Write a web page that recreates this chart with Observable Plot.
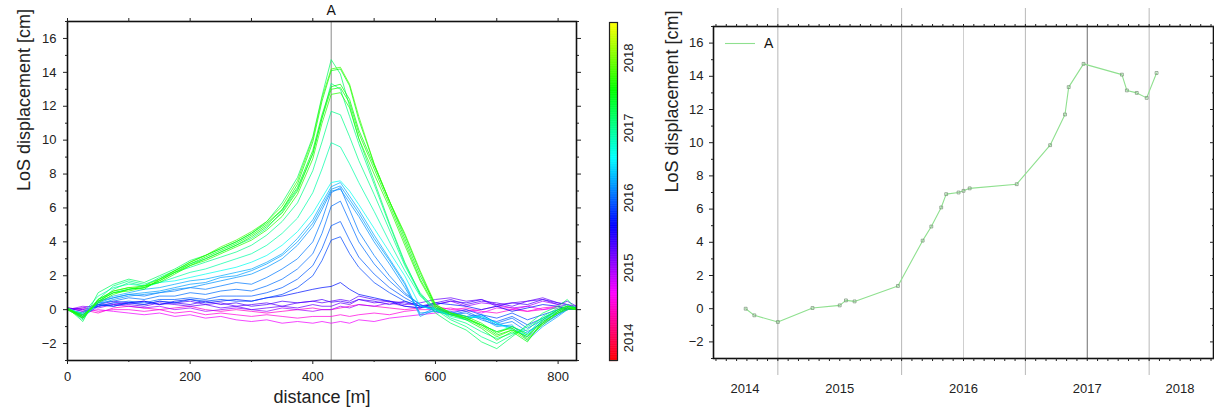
<!DOCTYPE html>
<html><head><meta charset="utf-8">
<script src="https://cdn.jsdelivr.net/npm/d3@7"></script>
<script src="https://cdn.jsdelivr.net/npm/@observablehq/plot@0.6"></script>
<style>
body{margin:0;background:#fff;font-family:"Liberation Sans",Arial,sans-serif;}
#wrap{position:relative;width:1214px;height:414px;overflow:hidden;background:#fff}
#wrap > div{position:absolute;top:0}
</style></head><body>
<div id="wrap">
  <div id="left" style="left:0"></div>
  <div id="cbar" style="left:590px"></div>
  <div id="right" style="left:640px"></div>
  <div id="legend" style="left:724px;top:34px"></div>
</div>
<script>
// ---------- data ----------
const distances = [0,25,50,75,100,125,150,175,200,225,250,275,300,325,350,375,400,415,430,445,460,475,500,525,550,575,600,625,650,675,700,725,750,775,800,815,830];

const profileDates = [2014.24,2014.31,2014.50,2014.78,2015.00,2015.05,2015.12,2015.47,2015.67,2015.74,2015.82,2015.86,2015.96,2016.00,2016.05,2016.43,2016.70,2016.82,2016.85,2016.97,2017.28,2017.32,2017.40,2017.48,2017.56];

const profiles = [
 [0.1,0.0,-0.2,0.1,0.2,0.1,0.0,0.1,0.2,0.0, -0.1,0.0,-0.1,-0.2,-0.1,0.0,0.1,0.0,0.0,0.1, 0.2,0.3,0.2,0.1,0.0,0.1,0.2,0.0,0.1,-0.1, -0.2,0.0,-0.1,0.1,0.2,0.1,0.0],
 [0.0,0.1,-0.1,0.0,0.0,-0.1,0.0,-0.2,-0.1,-0.3, -0.2,-0.3,-0.4,-0.3,-0.4,-0.5,-0.4,-0.4,-0.4,-0.3, -0.4,-0.3,-0.2,-0.3,-0.1,0.0,0.0,0.1,-0.1,0.0, 0.2,0.1,-0.1,0.0,0.2,0.0,0.1],
 [0.1,-0.1,0.0,-0.1,-0.2,-0.3,-0.2,-0.4,-0.3,-0.5, -0.4,-0.6,-0.7,-0.6,-0.8,-0.7,-0.8,-0.7,-0.8,-0.7, -0.8,-0.6,-0.7,-0.5,-0.4,-0.3,-0.2,-0.1,0.0,-0.2, 0.1,0.0,0.2,0.0,0.1,0.0,0.1],
 [0.0,0.2,0.1,0.3,0.2,0.1,0.2,0.0,0.1,-0.1, 0.0,0.1,0.0,-0.1,0.1,0.0,-0.1,0.0,0.0,0.2, 0.1,0.3,0.2,0.4,0.2,0.1,0.3,0.5,0.2,0.4, 0.3,0.1,0.2,0.5,0.3,0.2,0.1],
 [0.1,0.0,0.2,0.4,0.3,0.2,0.4,0.3,0.2,0.3, 0.1,0.2,0.0,0.1,0.2,0.1,0.3,0.2,0.2,0.4, 0.3,0.6,0.4,0.5,0.3,0.4,0.6,0.7,0.5,0.6, 0.3,0.4,0.5,0.7,0.4,0.3,0.2],
 [0.0,0.1,0.3,0.5,0.4,0.3,0.5,0.4,0.5,0.3, 0.4,0.2,0.3,0.4,0.2,0.4,0.5,0.4,0.5,0.6, 0.5,0.8,0.6,0.5,0.4,0.2,0.4,0.6,0.3,0.5, 0.4,0.2,0.5,0.6,0.3,0.5,0.2],
 [0.1,-0.1,0.2,0.3,0.4,0.5,0.3,0.4,0.3,0.5, 0.3,0.4,0.2,0.3,0.5,0.4,0.5,0.6,0.44,0.5, 0.4,0.6,0.5,0.3,0.5,0.2,0.3,0.5,0.4,0.6, 0.2,0.4,0.3,0.6,0.4,0.3,0.1],
 [0.0,-0.2,0.3,0.2,0.4,0.5,0.3,0.5,0.6,0.4, 0.5,0.6,0.5,0.7,0.8,1.0,1.2,1.3,1.37,1.6, 1.2,0.9,0.7,0.5,0.2,0.1,0.4,0.3,0.2,0.0, 0.2,-0.1,0.1,0.3,0.2,0.0,0.1],
 [0.0,-0.3,0.3,0.2,0.4,0.3,0.5,0.4,0.6,0.5, 0.6,0.5,0.5,0.7,0.9,1.3,2.0,2.9,4.1,4.3, 3.3,2.5,1.6,1.0,0.5,0.2,0.1,-0.2,0.0,-0.3, -0.5,-0.2,-0.6,-0.3,0.0,0.1,0.0],
 [0.1,-0.4,0.2,0.4,0.5,0.4,0.6,0.6,0.7,0.6, 0.8,0.8,0.8,1.0,1.3,1.8,2.6,3.6,4.95,5.2, 4.1,3.1,2.1,1.3,0.7,0.2,0.0,-0.3,-0.1,-0.5, -0.7,-0.4,-0.9,-0.5,-0.1,0.2,0.0],
 [0.0,-0.3,0.4,0.5,0.7,0.6,0.8,0.8,1.0,0.9, 1.1,1.2,1.1,1.4,1.8,2.4,3.3,4.5,6.1,6.4, 5.2,4.0,2.7,1.7,0.9,0.3,0.0,-0.2,-0.4,-0.3, -0.8,-0.5,-1.1,-0.6,-0.2,0.1,0.0],
 [0.1,-0.5,0.5,0.7,0.9,0.8,1.0,1.1,1.3,1.2, 1.4,1.6,1.5,1.9,2.4,3.0,4.0,5.3,6.9,7.2, 5.9,4.6,3.2,2.0,1.0,0.3,-0.1,-0.3,-0.2,-0.6, -0.9,-0.7,-1.3,-0.8,-0.3,0.0,0.1],
 [0.0,-0.4,0.3,0.6,0.8,0.9,1.0,1.2,1.3,1.5, 1.7,1.9,2.1,2.5,3.0,3.8,4.9,5.9,7.0,7.1, 6.3,5.5,4.0,2.7,1.3,-0.2,-0.1,-0.3,-0.5,-0.4, -0.9,-1.0,-1.4,-0.7,-0.2,0.0,0.1],
 [0.1,-0.3,0.4,0.7,0.9,1.0,1.1,1.3,1.5,1.6, 1.9,2.0,2.3,2.7,3.2,4.0,5.1,6.1,7.1,7.3, 6.5,5.7,4.2,2.9,1.5,-0.4,0.0,-0.2,-0.6,-0.3, -0.8,-1.1,-1.6,-0.9,-0.3,0.1,0.0],
 [0.0,-0.5,0.5,0.8,1.0,1.2,1.3,1.5,1.7,1.8, 2.0,2.2,2.4,2.8,3.3,4.2,5.3,6.3,7.25,7.5, 6.7,5.9,4.4,3.0,1.6,-0.3,0.1,-0.1,-0.4,-0.5, -1.0,-0.9,-1.8,-1.0,-0.4,0.0,0.2],
 [0.1,-0.3,0.6,1.0,1.2,1.3,1.6,1.7,1.9,2.1, 2.3,2.5,2.8,3.2,3.8,4.6,5.7,6.6,7.5,7.6, 7.0,6.2,4.8,3.4,2.0,0.2,0.0,-0.3,-0.5,-0.4, -0.8,-1.2,-1.5,-0.6,-0.1,0.2,0.0],
 [0.0,-0.2,0.8,1.3,1.5,1.4,1.6,1.9,2.2,2.4, 2.7,3.0,3.3,3.8,4.5,5.4,6.9,8.3,9.85,9.6, 8.6,7.5,5.8,4.0,2.3,0.8,0.0,-0.4,-0.6,-0.9, -1.3,-1.0,-1.4,-0.5,0.0,0.2,0.1],
 [0.1,-0.6,0.6,1.4,1.7,1.5,1.8,2.2,2.5,2.8, 3.1,3.4,3.8,4.4,5.2,6.3,8.2,9.9,11.7,11.5, 10.2,8.8,6.8,4.7,2.6,0.9,0.1,-0.5,-0.8,-1.3, -1.7,-1.4,-1.2,-0.4,0.1,0.3,0.0],
 [0.0,-0.5,0.4,1.2,1.6,1.4,1.9,2.3,2.7,3.0, 3.4,3.8,4.2,4.8,5.8,7.1,9.2,11.3,13.35,13.0, 11.4,9.8,7.4,5.0,2.7,1.0,0.0,-0.6,-1.0,-1.6, -2.0,-1.5,-1.0,-0.5,0.0,0.2,0.1],
 [0.1,-0.7,1.0,1.5,1.8,1.6,2.0,2.4,2.9,3.2, 3.6,4.0,4.5,5.2,6.3,7.8,10.2,12.6,14.75,13.9, 12.0,10.1,7.6,5.1,2.8,0.9,-0.2,-0.8,-1.2,-1.9, -2.3,-1.6,-0.9,-0.2,0.2,0.6,0.0],
 [0.0,-0.4,0.5,1.0,1.2,1.3,1.7,2.2,2.7,3.1, 3.5,3.9,4.4,5.0,5.9,7.4,9.9,12.3,14.1,14.2, 13.2,11.2,8.6,6.4,4.4,2.2,0.2,-0.3,-0.6,-1.1, -1.8,-1.3,-1.9,-0.7,-0.2,0.1,0.0],
 [0.1,-0.5,0.6,1.1,1.3,1.2,1.8,2.3,2.8,3.2, 3.6,4.0,4.5,5.1,5.9,7.2,9.4,11.5,13.15,13.3, 12.4,10.6,8.5,6.4,4.2,2.0,0.3,-0.2,-0.5,-0.9, -1.5,-1.2,-1.6,-0.6,0.0,0.2,0.1],
 [0.0,-0.3,0.4,0.9,1.2,1.4,1.6,2.1,2.6,3.0, 3.4,3.8,4.3,4.9,5.7,7.0,9.2,11.3,13.0,13.1, 12.2,10.4,8.3,6.2,4.0,1.8,0.2,-0.2,-0.4,-0.8, -1.4,-1.0,-1.5,-0.8,-0.1,0.1,0.0],
 [0.1,-0.4,0.5,1.0,1.1,1.3,1.7,2.2,2.6,2.9, 3.3,3.7,4.1,4.7,5.5,6.8,8.9,11.0,12.7,12.8, 11.9,10.1,8.0,6.0,3.8,1.7,0.1,-0.3,-0.5,-0.9, -1.3,-1.1,-1.7,-0.9,-0.2,0.0,0.1],
 [0.0,-0.5,0.6,1.1,1.3,1.4,1.8,2.3,2.8,3.2, 3.7,4.1,4.6,5.2,6.1,7.6,10.1,12.5,14.2,14.3, 13.3,11.4,8.6,6.4,4.5,2.3,0.3,-0.2,-0.5,-1.0, -1.6,-1.2,-1.8,-0.8,-0.1,0.2,0.0]
];

const tsDates  = [2014.24,2014.31,2014.50,2014.78,2015.00,2015.05,2015.12,2015.47,2015.67,2015.74,2015.82,2015.86,2015.96,2016.00,2016.05,2016.43,2016.70,2016.82,2016.85,2016.97,2017.28,2017.32,2017.40,2017.48,2017.56];
const tsValues = [0.0,-0.4,-0.8,0.04,0.2,0.5,0.44,1.37,4.1,4.95,6.1,6.9,7.0,7.1,7.25,7.5,9.85,11.7,13.35,14.75,14.1,13.15,13.0,12.7,14.2];

const markerNames = ["A"];
const markerDistances = [430];

const xTicks = [0,200,400,600,800];
const xMinorTicks = [100,300,500,700];
const yTicks = [-2,0,2,4,6,8,10,12,14,16];
const yMinorTicks = [-3,-1,1,3,5,7,9,11,13,15,17];

const cbTicks = [2014,2015,2016,2017,2018];
const cbRange = [2013.47, 2018.3];
const cbColors = ["#ff0000","#ff00ff","#0000ff","#00ffff","#00ff00","#ffff00"];

const yearLabels = [2014,2015,2016,2017,2018];
const halfYearLines = [2014.5,2015.5,2016.5,2017.5];
const lightYearLines = [2016.0];
const darkYearLines = [2017.0];

profiles.forEach((p,i)=>{ if (p.length !== distances.length) throw new Error("profile "+i+" has "+p.length); });

// ---------- derived tables ----------
const rows = profiles.flatMap((vals, i) => vals.map((v, j) => ({d: distances[j], v, t: profileDates[i], id: i})));
const series = tsDates.map((t, i) => ({t, v: tsValues[i]}));
const markers = markerNames.map((name, i) => ({name, dist: markerDistances[i]}));
const cbStops = cbColors.map((c, i) => cbRange[0] + i * (cbRange[1] - cbRange[0]) / (cbColors.length - 1));
const colorScale = {type: "linear", domain: cbStops, range: cbColors, interpolate: "rgb"};
const cbSteps = d3.range(cbRange[0], cbRange[1], 0.01);

const FONT = '"Liberation Sans", Arial, Helvetica, sans-serif';
const baseStyle = {fontFamily: FONT, fontSize: "13px", color: "#222", background: "transparent", overflow: "visible"};

// ---------- left panel ----------
const left = Plot.plot({
  width: 590, height: 414,
  marginLeft: 67, marginRight: 14, marginTop: 21, marginBottom: 54,
  x: {domain: [0, 830]},
  y: {domain: [-3, 17]},
  color: colorScale,
  style: baseStyle,
  marks: [
    Plot.ruleX(markers, {x: "dist", stroke: "#8a8a8a", strokeWidth: 1}),
    Plot.line(rows, {x: "d", y: "v", z: "id", stroke: "t", strokeWidth: 1, strokeOpacity: 0.72}),
    Plot.frame({stroke: "#111", strokeWidth: 1.6}),
    Plot.axisX(xTicks, {anchor: "bottom", tickSize: 4, tickPadding: 7, label: null, fontSize: 13}),
    Plot.axisX(xMinorTicks, {anchor: "bottom", tickSize: 2, tickFormat: () => "", label: null}),
    Plot.axisX(xTicks.concat(xMinorTicks), {anchor: "top", tickSize: 4, tickFormat: () => "", label: null}),
    Plot.axisY(yTicks, {anchor: "left", tickSize: 4, tickPadding: 7, label: null, fontSize: 13}),
    Plot.axisY(yMinorTicks, {anchor: "left", tickSize: 2, tickFormat: () => "", label: null}),
    Plot.axisY(yTicks, {anchor: "right", tickSize: 4, tickFormat: () => "", label: null}),
    Plot.axisY(yMinorTicks, {anchor: "right", tickSize: 2, tickFormat: () => "", label: null}),
    Plot.text(markers, {x: "dist", text: "name", frameAnchor: "top", lineAnchor: "middle", dy: -11, fontSize: 14, fill: "#111"}),
    Plot.text(["distance [m]"], {frameAnchor: "bottom", lineAnchor: "middle", dy: 37, fontSize: 18, fill: "#222"}),
    Plot.text(["LoS displacement [cm]"], {frameAnchor: "left", rotate: -90, lineAnchor: "middle", dx: -43, fontSize: 18, fill: "#222"})
  ]
});
document.getElementById("left").append(left);

// ---------- colour bar ----------
const cbar = Plot.plot({
  width: 50, height: 414,
  marginLeft: 19, marginRight: 23, marginTop: 22, marginBottom: 54,
  y: {domain: cbRange, axis: null},
  color: colorScale,
  style: baseStyle,
  marks: [
    Plot.ruleY(cbSteps, {y: d => d, stroke: d => d, strokeWidth: 1.2}),
    Plot.frame({stroke: "#222", strokeWidth: 1.2}),
    Plot.text(cbTicks, {y: d => d, text: d => String(d), frameAnchor: "right", dx: 11, rotate: -90, lineAnchor: "middle", fontSize: 13, fill: "#222"})
  ]
});
document.getElementById("cbar").append(cbar);

// ---------- right panel ----------
const months = d3.range(2014, 2018.001, 1 / 12);
const right = Plot.plot({
  width: 574, height: 414,
  marginLeft: 73, marginRight: 1, marginTop: 26, marginBottom: 56,
  x: {domain: [2013.98, 2018.02]},
  y: {domain: [-3, 17]},
  style: baseStyle,
  marks: [
    Plot.ruleX(halfYearLines, {x: d => d, stroke: "#b8b8b8", strokeWidth: 1, insetTop: -18, insetBottom: -17}),
    Plot.ruleX(lightYearLines, {x: d => d, stroke: "#cfcfcf", strokeWidth: 1}),
    Plot.ruleX(darkYearLines, {x: d => d, stroke: "#6e6e6e", strokeWidth: 1}),
    Plot.line(series, {x: "t", y: "v", stroke: "#8fe08f", strokeWidth: 1.1}),
    Plot.dot(series, {x: "t", y: "v", r: 1.6, symbol: "square", stroke: "#7d9a7d", strokeWidth: 0.8, fill: "none"}),
    Plot.frame({stroke: "#111", strokeWidth: 1.6}),
    Plot.axisX(months, {anchor: "top", tickSize: 3, tickFormat: () => "", label: null}),
    Plot.axisX(months, {anchor: "bottom", tickSize: 3, tickFormat: () => "", label: null}),
    Plot.text(yearLabels.slice(1, 4), {x: d => d, text: d => String(d), frameAnchor: "bottom", lineAnchor: "middle", dy: 30, fontSize: 13, fill: "#222"}),
    Plot.text(yearLabels.slice(0, 1), {x: d => d, text: d => String(d), frameAnchor: "bottom", lineAnchor: "middle", dy: 30, dx: 29, fontSize: 13, fill: "#222"}),
    Plot.text(yearLabels.slice(4), {x: d => d, text: d => String(d), frameAnchor: "bottom", lineAnchor: "middle", dy: 30, dx: -31, fontSize: 13, fill: "#222"}),
    Plot.axisY(yTicks, {anchor: "left", tickSize: 4, tickPadding: 6, label: null, fontSize: 13}),
    Plot.axisY(yMinorTicks, {anchor: "left", tickSize: 2, tickFormat: () => "", label: null}),
    Plot.axisY(yTicks, {anchor: "right", tickSize: -4, tickFormat: () => "", label: null}),
    Plot.axisY(yMinorTicks, {anchor: "right", tickSize: -2, tickFormat: () => "", label: null}),
    Plot.text(["LoS displacement [cm]"], {frameAnchor: "left", rotate: -90, lineAnchor: "middle", dx: -41, fontSize: 18, fill: "#222"})
  ]
});
document.getElementById("right").append(right);

// ---------- legend ----------
const leg = d3.select("#legend").append("svg").attr("width", 70).attr("height", 20)
  .style("font-family", FONT);
leg.append("line").attr("x1", 1).attr("x2", 31).attr("y1", 9.5).attr("y2", 9.5)
  .attr("stroke", "#8fe08f").attr("stroke-width", 1.1);
leg.append("text").attr("x", 40).attr("y", 9.5).attr("dy", "0.35em")
  .attr("font-size", 14).attr("fill", "#111").text(markerNames[0]);
</script>
</body></html>
